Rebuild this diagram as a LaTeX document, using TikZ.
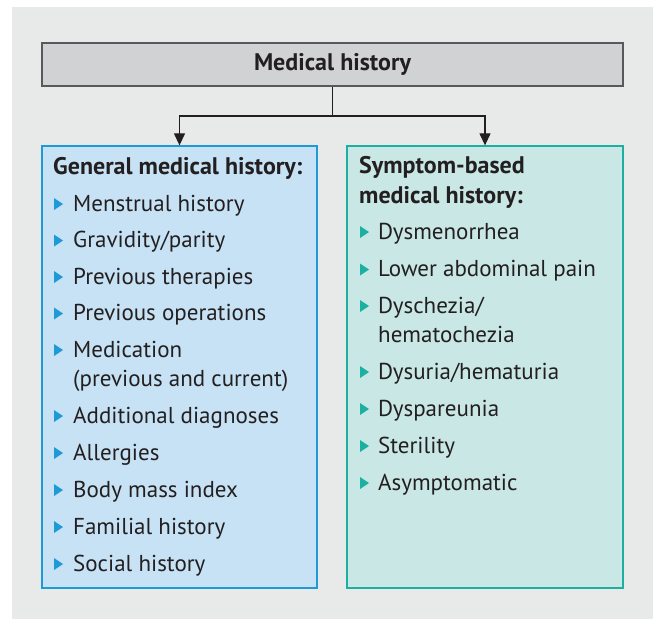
\documentclass[tikz,border=0pt]{standalone}
\usepackage{fontspec}
\setmainfont{PT Sans}
\usetikzlibrary{arrows.meta}
\definecolor{bggray}{HTML}{E8EAEA}
\definecolor{topfill}{HTML}{D1D2D4}
\definecolor{topline}{HTML}{58595B}
\definecolor{genfill}{HTML}{C6E2F4}
\definecolor{genline}{HTML}{1E9AD6}
\definecolor{symfill}{HTML}{C8E7E5}
\definecolor{symline}{HTML}{1BB0A2}
\definecolor{txt}{HTML}{231F20}
\tikzset{
  topbox/.style={draw=topline, fill=topfill, line width=1.6pt, inner sep=0pt, minimum width=581pt, minimum height=43pt, font=\fontsize{24}{28}\selectfont\bfseries, text=txt},
  genbox/.style={draw=genline, fill=genfill, line width=1.3pt, minimum width=275pt, minimum height=442pt, inner sep=0pt},
  symbox/.style={draw=symline, fill=symfill, line width=1.3pt, minimum width=276pt, minimum height=442pt, inner sep=0pt},
  head/.style={anchor=base west, inner sep=0pt, font=\fontsize{24}{28}\selectfont\bfseries, text=txt},
  item/.style={anchor=base west, inner sep=0pt, font=\fontsize{23}{27}\selectfont, text=txt},
  conn/.style={draw=txt, line width=1.2pt},
  arr/.style={conn, -{Triangle[width=11pt,length=12pt]}},
  pics/bul/.style={code={\fill[#1] (0,-13) -- (0,-1) -- (9,-7) -- cycle;}}
}
\begin{document}
\begin{tikzpicture}[x=1pt,y=-1pt]
\useasboundingbox (0,0) rectangle (655,619);
\fill[bggray] (12,7) rectangle (653,619);
\node[topbox] (top) at (332.5,64.5) {Medical history};
\node[genbox] (gen) at (179.5,367) {};
\node[symbox] (sym) at (485,367) {};
\coordinate (j) at (332.5,116);
\draw[conn] (top.south) -- (j);
\draw[arr] (j) -| (gen.north);
\draw[arr] (j) -| (sym.north);
% left column
\node[head] (gh) at (53,174) {General medical history:};
\foreach \n/\y/\t in {g1/211/Menstrual history, g2/247.5/Gravidity\slash parity, g3/284/Previous therapies, g4/320.5/Previous operations, g5/357/Medication, g7/423/Additional diagnoses, g8/460/Allergies, g9/497/Body mass index, g10/534/Familial history, g11/571/Social history}{
  \pic at (54,\y) {bul=genline};
  \node[item] (\n) at (73,\y) {\t};
}
\node[item] (g6) at (73,386) {(previous and current)};
% right column
\node[head] (sh1) at (359,173) {Symptom-based};
\node[head] (sh2) at (359,203) {medical history:};
\foreach \n/\y/\t in {s1/239/Dysmenorrhea, s2/276.5/Lower abdominal pain, s3/313/Dyschezia\slash, s5/379/Dysuria\slash hematuria, s6/416/Dyspareunia, s7/453/Sterility, s8/490/Asymptomatic}{
  \pic at (360,\y) {bul=symline};
  \node[item] (\n) at (378,\y) {\t};
}
\node[item] (s4) at (378,342) {hematochezia};
\end{tikzpicture}
\end{document}
